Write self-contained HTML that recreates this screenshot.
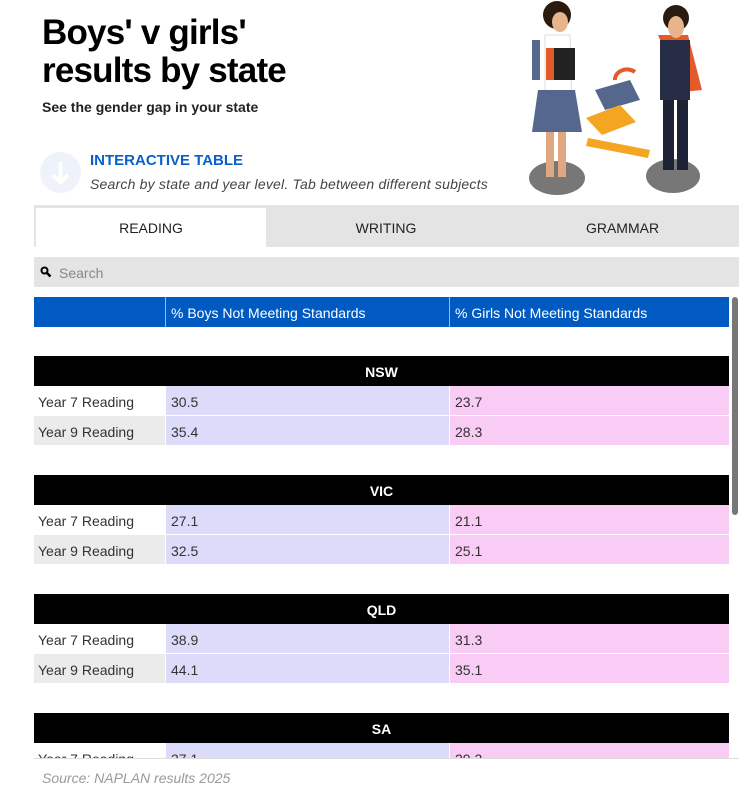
<!DOCTYPE html>
<html><head><meta charset="utf-8"><style>
*{margin:0;padding:0;box-sizing:border-box}
body{width:756px;height:809px;background:#fff;position:relative;overflow:hidden;font-family:"Liberation Sans",sans-serif}
.a{position:absolute}
h1{position:absolute;left:42px;top:14px;font-size:35px;line-height:38px;font-weight:bold;color:#000;letter-spacing:-0.8px}
.sub{left:42px;top:99px;font-size:14px;font-weight:bold;color:#222}
.tab{top:208px;height:39px;font-size:14px;color:#222;display:flex;align-items:center;justify-content:center}
.row{left:34px;width:695px;height:30px;font-size:14px;color:#333}
.row div{position:absolute;top:0;height:29px;line-height:32px;padding-left:4px}
.c1{left:0;width:131px}
.c2{left:132px;width:283px;background:#dcdcfa;padding-left:5px!important}
.c3{left:416px;width:279px;background:#f9ccf5;padding-left:5px!important}
.st{left:34px;width:695px;height:30px;background:#000;color:#fff;font-weight:bold;font-size:14px;text-align:center;line-height:32px}
</style></head><body>
<h1>Boys' v girls'<br>results by state</h1>
<div class="a sub">See the gender gap in your state</div>
<div class="a" style="left:40px;top:152px;width:41px;height:41px;border-radius:50%;background:#eef3fb"></div>
<svg class="a" style="left:40px;top:152px" width="41" height="41"><path d="M20.5 10v20M13 23l7.5 7.5L28 23" stroke="#fff" stroke-width="4" fill="none"/></svg>
<div class="a" style="left:90px;top:152px;font-size:15px;font-weight:bold;color:#0a5fc8">INTERACTIVE TABLE</div>
<div class="a" style="left:90px;top:176px;font-size:14px;font-style:italic;color:#444;letter-spacing:0.2px">Search by state and year level. Tab between different subjects</div>
<svg class="a" style="left:510px;top:0" width="220" height="200">
<ellipse cx="47" cy="178" rx="28" ry="17" fill="#777"/>
<ellipse cx="163" cy="176" rx="27" ry="17" fill="#777"/>
<path d="M35 35 L60 35 L62 110 L35 110Z" fill="#fff" stroke="#ddd"/>
<path d="M28 90 L65 90 L72 132 L22 132Z" fill="#56678e"/>
<rect x="36" y="132" width="8" height="45" fill="#e0a880"/><rect x="48" y="132" width="8" height="45" fill="#e0a880"/>
<circle cx="47" cy="15" r="14" fill="#2b1a10"/><ellipse cx="50" cy="22" rx="8" ry="10" fill="#e8b48c"/>
<rect x="22" y="40" width="8" height="40" fill="#56678e"/>
<rect x="38" y="48" width="27" height="32" fill="#222"/><rect x="36" y="48" width="8" height="32" fill="#e55a2b"/>
<path d="M148 35 L178 35 L192 90 L172 92Z" fill="#e55a2b"/>
<rect x="150" y="40" width="30" height="60" fill="#262d44"/>
<rect x="153" y="100" width="11" height="70" fill="#1d2236"/><rect x="167" y="100" width="11" height="70" fill="#1d2236"/>
<circle cx="166" cy="18" r="13" fill="#2b1a10"/><ellipse cx="166" cy="27" rx="8" ry="11" fill="#e8b48c"/>
<path d="M85 90 L120 80 L130 100 L95 110Z" fill="#56678e"/>
<path d="M76 118 L110 105 L126 122 L92 135Z" fill="#f4a521"/>
<path d="M78 138 L140 150 L138 158 L76 146Z" fill="#f4a521"/>
<path d="M105 80 A12 10 0 0 1 125 72" stroke="#e55a2b" stroke-width="4" fill="none"/>
</svg>
<div class="a" style="left:34px;top:205px;width:705px;height:42px;background:#e4e4e4"></div>
<div class="a tab" style="left:36px;width:230px;background:#fff">READING</div>
<div class="a tab" style="left:266px;width:240px">WRITING</div>
<div class="a tab" style="left:506px;width:233px">GRAMMAR</div>
<div class="a" style="left:34px;top:257px;width:705px;height:30px;background:#e4e4e4"></div>
<svg class="a" style="left:40px;top:266px" width="12" height="12"><circle cx="4.5" cy="4.5" r="3" stroke="#000" stroke-width="2" fill="none"/><path d="M7 7l3.5 3.5" stroke="#000" stroke-width="2.5"/></svg>
<div class="a" style="left:59px;top:265px;font-size:14px;color:#888">Search</div>
<div class="a" style="left:34px;top:297px;width:695px;height:30px;background:#005ac2"></div>
<div class="a" style="left:165px;top:297px;width:1px;height:30px;background:#9bbbe6"></div>
<div class="a" style="left:449px;top:297px;width:1px;height:30px;background:#9bbbe6"></div>
<div class="a" style="left:171px;top:305px;font-size:14px;color:#fff">% Boys Not Meeting Standards</div>
<div class="a" style="left:455px;top:305px;font-size:14px;color:#fff">% Girls Not Meeting Standards</div>
<div class="a" style="left:732px;top:297px;width:6px;height:218px;background:#777;border-radius:3px"></div>
<div class="a" style="left:0;top:327px;width:756px;height:431px;overflow:hidden">
<div class="a st" style="top:29px">NSW</div>
<div class="a row" style="top:59px"><div class="c1">Year 7 Reading</div><div class="c2">30.5</div><div class="c3">23.7</div></div>
<div class="a row" style="top:89px"><div class="c1" style="background:#ebebeb">Year 9 Reading</div><div class="c2">35.4</div><div class="c3">28.3</div></div>
<div class="a st" style="top:148px">VIC</div>
<div class="a row" style="top:178px"><div class="c1">Year 7 Reading</div><div class="c2">27.1</div><div class="c3">21.1</div></div>
<div class="a row" style="top:208px"><div class="c1" style="background:#ebebeb">Year 9 Reading</div><div class="c2">32.5</div><div class="c3">25.1</div></div>
<div class="a st" style="top:267px">QLD</div>
<div class="a row" style="top:297px"><div class="c1">Year 7 Reading</div><div class="c2">38.9</div><div class="c3">31.3</div></div>
<div class="a row" style="top:327px"><div class="c1" style="background:#ebebeb">Year 9 Reading</div><div class="c2">44.1</div><div class="c3">35.1</div></div>
<div class="a st" style="top:386px">SA</div>
<div class="a row" style="top:416px"><div class="c1">Year 7 Reading</div><div class="c2">37.1</div><div class="c3">29.3</div></div>
</div>
<div class="a" style="left:34px;top:758px;width:705px;height:1px;background:#ddd"></div>
<div class="a" style="left:42px;top:770px;font-size:14px;font-style:italic;color:#999">Source: NAPLAN results 2025</div>
</body></html>
